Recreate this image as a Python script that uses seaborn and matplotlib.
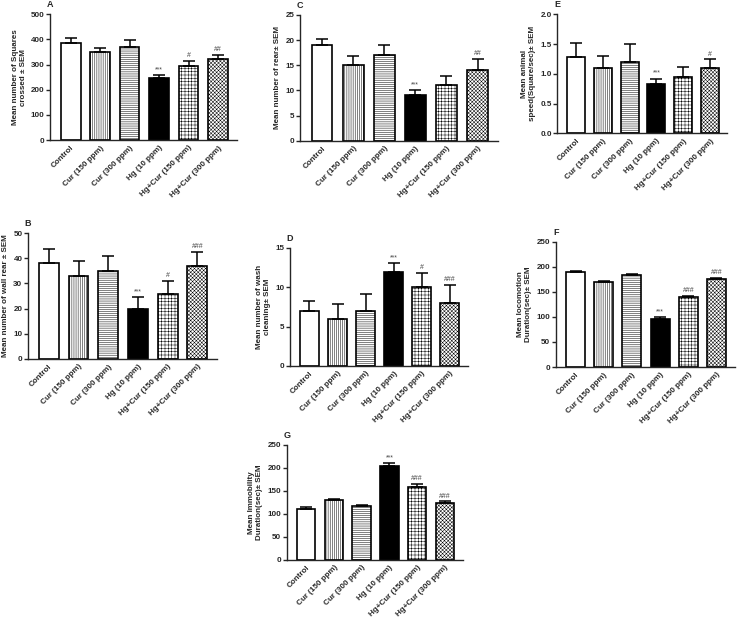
import numpy as np
import pandas as pd
import seaborn as sns
import matplotlib
matplotlib.use("Agg")
import matplotlib.pyplot as plt

groups = ["Control", "Cur (150 ppm)", "Cur (300 ppm)", "Hg (10 ppm)",
          "Hg+Cur (150 ppm)", "Hg+Cur (300 ppm)"]

squares_mean = [385, 350, 370, 245, 293, 322]
squares_sem = [22, 15, 27, 12, 23, 18]
squares_sig = ["", "", "", "***", "#", "##"]

rear_mean = [19, 15, 17, 9, 11, 14]
rear_sem = [1.3, 1.9, 2.1, 1.1, 1.9, 2.3]
rear_sig = ["", "", "", "***", "", "##"]

speed_mean = [1.29, 1.10, 1.20, 0.82, 0.95, 1.10]
speed_sem = [0.23, 0.20, 0.30, 0.10, 0.16, 0.14]
speed_sig = ["", "", "", "***", "", "#"]

wall_mean = [38, 33, 35, 20, 26, 37]
wall_sem = [5.5, 6, 6, 4.7, 5, 5.5]
wall_sig = ["", "", "", "***", "#", "###"]

wash_mean = [7, 6, 7, 12, 10, 8]
wash_sem = [1.2, 1.9, 2.1, 1.1, 1.8, 2.3]
wash_sig = ["", "", "", "***", "#", "###"]

loco_mean = [190, 170, 183, 96, 140, 176]
loco_sem = [2, 2, 2, 3, 1.5, 1.5]
loco_sig = ["", "", "", "***", "###", "###"]

immob_mean = [110, 129, 117, 203, 159, 123]
immob_sem = [5, 4, 3, 6, 6, 4]
immob_sig = ["", "", "", "***", "###", "###"]

face_colors = ["white", "white", "white", "black", "white", "white"]
hatches = [None, "||||||||", "--------", None, "+++++", "xxxxxxxxx"]

sns.set_style("ticks")
plt.rcParams["font.family"] = ["Liberation Sans", "DejaVu Sans"]
plt.rcParams["font.weight"] = "bold"
plt.rcParams["hatch.linewidth"] = 0.35

fig = plt.figure(figsize=(7.43, 6.2), dpi=100)

FS = 5.8


def panel(rect, letter, mean, sem, sig, ylabel, ymax, ystep, fmt="{:.0f}"):
    ax = fig.add_axes(rect)
    df = pd.DataFrame({"group": groups, "value": mean})
    sns.barplot(data=df, x="group", y="value", ax=ax, width=0.67,
                color="white", edgecolor="black", linewidth=1.2)
    for patch, fc, h in zip(ax.patches, face_colors, hatches):
        patch.set_facecolor(fc)
        if h:
            patch.set_hatch(h)
    xs = np.arange(len(groups))
    ax.errorbar(xs, mean, yerr=[np.zeros(len(sem)), sem], fmt="none",
                ecolor="black", elinewidth=1.1, capsize=4.5, capthick=1.1)
    off = ymax * 0.015
    for x, m, s, t in zip(xs, mean, sem, sig):
        if t:
            ax.text(x, m + s + off, t, ha="center", va="bottom",
                    fontsize=5, color="#444444", fontweight="normal")
    ax.set_ylim(0, ymax)
    ticks = np.arange(0, ymax + ystep / 2, ystep)
    ax.set_yticks(ticks)
    ax.set_yticklabels([fmt.format(t) for t in ticks])
    ax.set_xlim(-0.7, 5.65)
    ax.set_xlabel("")
    ax.set_ylabel(ylabel, fontsize=FS, fontweight="bold", labelpad=3)
    ax.set_xticks(xs)
    ax.set_xticklabels(groups, rotation=45, ha="right", rotation_mode="anchor",
                       fontsize=FS, fontweight="bold")
    ax.tick_params(axis="y", labelsize=FS, length=3, width=1, pad=1)
    ax.tick_params(axis="x", length=0, pad=3)
    for lab in ax.get_yticklabels():
        lab.set_fontweight("bold")
    sns.despine(ax=ax)
    ax.spines["left"].set_linewidth(1)
    ax.spines["bottom"].set_linewidth(1)
    ax.text(0.0, 1.04, letter, transform=ax.transAxes, ha="center", va="bottom",
            fontsize=6.5, fontweight="bold")
    return ax


panel([0.0673, 0.774, 0.252, 0.203], "A", squares_mean, squares_sem, squares_sig,
      "Mean number of Squares\ncrossed ± SEM", 500, 100)
panel([0.404, 0.773, 0.266, 0.203], "C", rear_mean, rear_sem, rear_sig,
      "Mean number of rear± SEM", 25, 5)
panel([0.750, 0.785, 0.229, 0.192], "E", speed_mean, speed_sem, speed_sig,
      "Mean animal\nspeed(Square/sec)± SEM", 2.0, 0.5, "{:.1f}")
panel([0.0377, 0.421, 0.254, 0.203], "B", wall_mean, wall_sem, wall_sig,
      "Mean number of wall rear ± SEM", 50, 10)
panel([0.390, 0.410, 0.240, 0.190], "D", wash_mean, wash_sem, wash_sig,
      "Mean number of wash\ncleaning± SEM", 15, 5)
panel([0.748, 0.408, 0.241, 0.202], "F", loco_mean, loco_sem, loco_sig,
      "Mean locomotion\nDuration(sec)± SEM", 250, 50)
panel([0.386, 0.097, 0.237, 0.186], "G", immob_mean, immob_sem, immob_sig,
      "Mean Immobility\nDuration(sec)± SEM", 250, 50)

fig.savefig("out.png", dpi=100, facecolor="white")
